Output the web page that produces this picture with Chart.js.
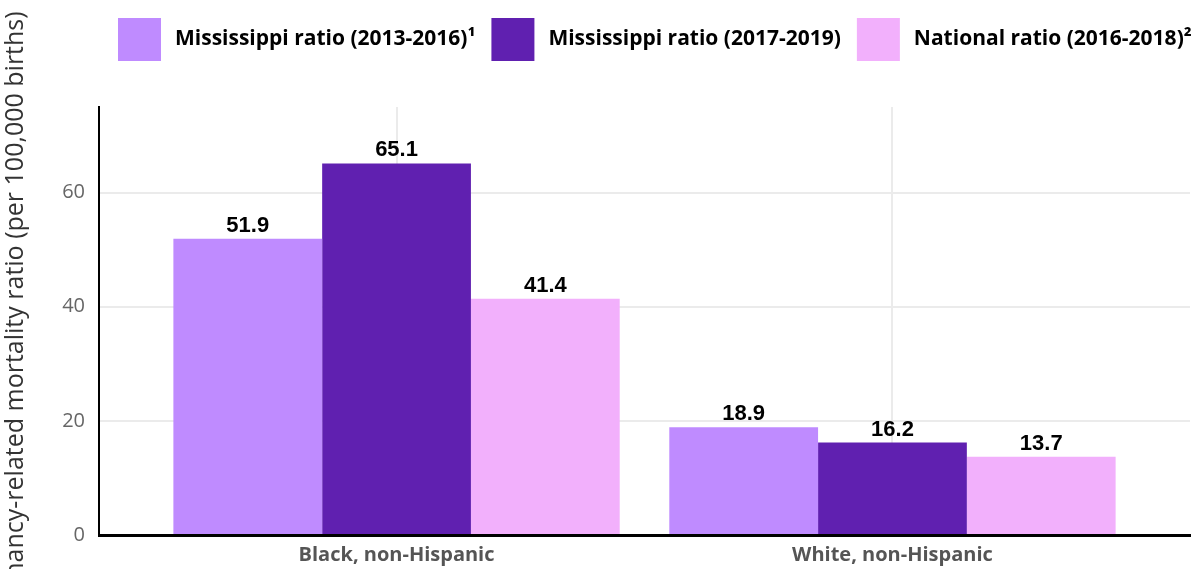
<!DOCTYPE html>
<html>
<head>
<meta charset="utf-8">
<script src="https://cdn.jsdelivr.net/npm/chart.js@4"></script>
<style>
  html, body { margin: 0; padding: 0; background: #fff; }
  #wrap { width: 1193px; height: 569px; position: relative; }
</style>
</head>
<body>
<div id="wrap"><canvas id="chart"></canvas></div>
<script>
// Chart data
const categories = ['Black, non-Hispanic', 'White, non-Hispanic'];
const seriesNames = ['Mississippi ratio (2013-2016)\u00B9', 'Mississippi ratio (2017-2019)', 'National ratio (2016-2018)\u00B2'];
const ms20132016 = [51.9, 18.9];
const ms20172019 = [65.1, 16.2];
const national20162018 = [41.4, 13.7];
const yTicks = [0, 20, 40, 60];
const yMax = 75;
const yTitle = 'Pregnancy-related mortality ratio (per 100,000 births)';

const colors = ['#BF8BFF', '#6020B0', '#F2B0FC'];

// Draws the value above every bar
const barLabels = {
  id: 'barLabels',
  afterDatasetsDraw(chart) {
    const ctx = chart.ctx;
    ctx.save();
    ctx.font = 'bold 22px "Liberation Sans", Arial, sans-serif';
    ctx.fillStyle = '#000';
    ctx.textAlign = 'center';
    ctx.textBaseline = 'alphabetic';
    chart.data.datasets.forEach((ds, i) => {
      chart.getDatasetMeta(i).data.forEach((bar, j) => {
        ctx.fillText(ds.data[j].toFixed(1), bar.x, bar.y - 7);
      });
    });
    ctx.restore();
  }
};

// Y axis title drawn by hand so it is not squeezed to the axis height
const yAxisTitle = {
  id: 'yAxisTitle',
  afterDraw(chart) {
    const {ctx, chartArea} = chart;
    ctx.save();
    ctx.translate(16, (chartArea.top + chartArea.bottom) / 2);
    ctx.rotate(-Math.PI / 2);
    ctx.font = '25px "Open Sans", sans-serif';
    ctx.fillStyle = '#333';
    ctx.textAlign = 'center';
    ctx.textBaseline = 'middle';
    ctx.fillText(yTitle, 0, 0);
    ctx.restore();
  }
};

// Legend: fixed height and left start
const legendBox = {
  id: 'legendBox',
  beforeInit(chart) {
    const fit = chart.legend.fit;
    chart.legend.fit = function () {
      fit.call(this);
      this.height = 105;
    };
  },
  beforeDraw(chart) {
    chart.legend.left = 102;
    chart.legend.right = 1400;
  }
};

new Chart(document.getElementById('chart'), {
  type: 'bar',
  data: {
    labels: categories,
    datasets: [
      { label: seriesNames[0], data: ms20132016, backgroundColor: colors[0] },
      { label: seriesNames[1], data: ms20172019, backgroundColor: colors[1] },
      { label: seriesNames[2], data: national20162018, backgroundColor: colors[2] }
    ]
  },
  options: {
    responsive: true,
    maintainAspectRatio: false,
    animation: false,
    layout: { padding: { top: 2, right: 3, left: 0, bottom: 0 } },
    datasets: {
      bar: { categoryPercentage: 0.9, barPercentage: 1.0, borderWidth: 0 }
    },
    plugins: {
      tooltip: { enabled: false },
      legend: {
        position: 'top',
        align: 'start',
        labels: {
          boxWidth: 43,
          boxHeight: 43,
          padding: 16,
          color: '#111',
          font: { family: '"Open Sans", sans-serif', size: 21, weight: 'bold' },
          generateLabels(chart) {
            return chart.data.datasets.map((ds, i) => ({
              text: '\u2009' + ds.label,
              fillStyle: ds.backgroundColor,
              strokeStyle: ds.backgroundColor,
              lineWidth: 0,
              hidden: false,
              datasetIndex: i
            }));
          }
        }
      }
    },
    scales: {
      x: {
        offset: false,
        afterBuildTicks(scale) {
          // spread the two groups like the original: -0.6 .. 1.6 in category units
          scale._startValue = -0.6;
          scale._valueRange = 2.2;
        },
        afterFit(scale) { scale.height = 34; },
        grid: { color: '#ebebeb', lineWidth: 2, drawTicks: false, offset: false },
        border: { display: true, color: '#000', width: 3 },
        ticks: {
          padding: 8,
          color: '#555',
          font: { family: '"Open Sans", sans-serif', size: 20, weight: 'bold' }
        }
      },
      y: {
        min: 0,
        max: yMax,
        afterFit(scale) { scale.width = 99; },
        afterBuildTicks(scale) {
          scale.ticks = yTicks.map(v => ({ value: v }));
        },
        grid: { color: '#ebebeb', lineWidth: 2, drawTicks: false },
        border: { display: true, color: '#000', width: 2 },
        ticks: {
          padding: 14,
          color: '#666',
          font: { family: '"Open Sans", sans-serif', size: 20 }
        }
      }
    }
  },
  plugins: [barLabels, yAxisTitle, legendBox]
});
</script>
</body>
</html>
